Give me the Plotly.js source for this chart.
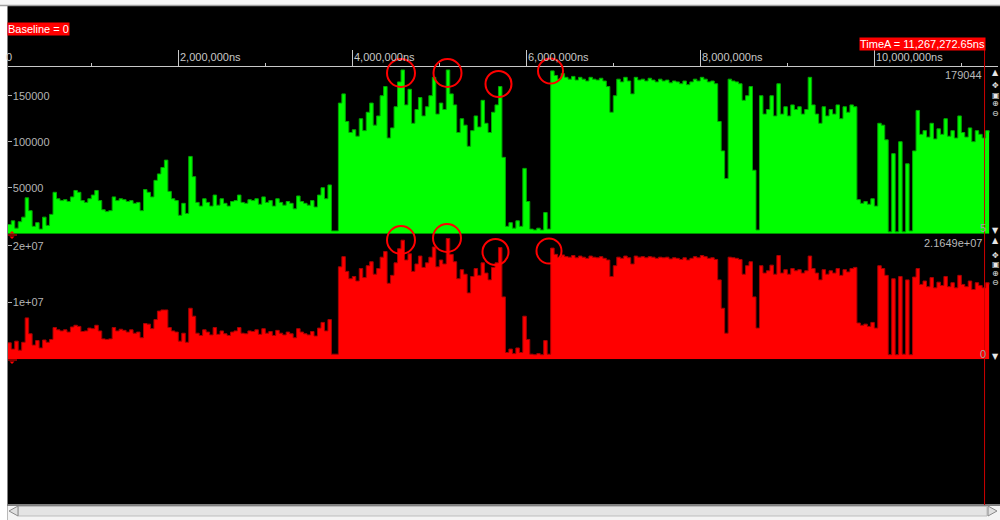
<!DOCTYPE html>
<html>
<head>
<meta charset="utf-8">
<script src="https://cdn.plot.ly/plotly-3.0.1.min.js"></script>
<style>
  html, body { margin: 0; padding: 0; background: #000; }
  #chart { width: 1000px; height: 520px; }
</style>
</head>
<body>
<div id="chart"></div>
<script>
// ---------------- DATA ----------------
// Uniform sampling grid of the waveform (ns)
const SAMPLE_STEP_NS = 40000;
const TIME_A_NS = 11267272.65;
const BASELINE = 0;

// Upper waveform (green), counts per sample
const greenCounts = [
  10000,14000,6000,13000,18000,39000,25000,8000,12000,5000,
  18000,9000,21000,45000,38000,36000,37000,35000,40000,47000,
  45000,36000,34000,38000,42000,47000,36000,26000,24000,25000,
  40000,36000,38000,37000,35000,36000,33000,34000,25000,48000,
  45000,40000,58000,65000,72000,80000,46000,38000,36000,20000,
  33000,22000,84000,62000,34000,30000,38000,34000,30000,42000,
  31000,38000,33000,30000,35000,36000,42000,34000,33000,37000,
  36000,38000,32000,40000,34000,36000,30000,38000,34000,31000,
  35000,33000,27000,41000,35000,33000,31000,36000,29000,42000,
  50000,38000,53000,3000,3000,142000,152000,122000,110000,113000,
  106000,125000,112000,132000,142000,118000,128000,150000,160000,104000,
  115000,138000,165000,178000,140000,157000,120000,135000,148000,128000,
  138000,150000,170000,130000,142000,135000,178000,152000,140000,110000,
  125000,118000,95000,112000,128000,116000,145000,120000,110000,132000,
  140000,160000,83000,8000,12000,6000,14000,8000,71000,35000,
  5000,4000,6000,4000,23000,5000,177000,172000,168000,174000,
  170000,168000,171000,167000,170000,168000,166000,170000,168000,167000,
  169000,166000,160000,132000,150000,168000,165000,170000,166000,152000,
  170000,167000,168000,166000,169000,167000,165000,168000,166000,167000,
  164000,166000,165000,163000,166000,162000,165000,168000,166000,170000,
  168000,165000,166000,163000,122000,90000,60000,168000,166000,165000,
  163000,145000,150000,160000,69000,4000,150000,130000,135000,150000,
  128000,163000,130000,138000,128000,140000,135000,138000,130000,135000,
  170000,140000,130000,120000,138000,128000,135000,130000,140000,125000,
  138000,132000,140000,138000,37000,33000,35000,32000,38000,30000,
  120000,118000,102000,2000,87000,2000,100000,2000,76000,3000,
  90000,134000,108000,112000,105000,120000,103000,114000,108000,125000,
  106000,112000,104000,128000,110000,105000,115000,100000,112000,108000,
  104000,112000,110000
];

// Lower waveform (red), per sample
const redValues = [
  2.9e6,1.8e6,3.2e6,1.6e6,3.0e6,7.3e6,4.5e6,2.5e6,3.3e6,2.0e6,
  3.4e6,3.0e6,3.5e6,5.6e6,5.2e6,5.0e6,5.2e6,4.8e6,5.7e6,6.0e6,
  5.8e6,4.9e6,5.0e6,5.5e6,5.4e6,6.0e6,5.0e6,3.6e6,3.5e6,3.6e6,
  5.6e6,5.0e6,5.3e6,5.1e6,4.8e6,5.2e6,4.6e6,4.8e6,3.8e6,6.3e6,
  6.2e6,5.4e6,7.0e6,8.5e6,8.7e6,8.7e6,5.6e6,5.0e6,4.8e6,3.2e6,
  4.6e6,3.0e6,9.0e6,7.6e6,4.6e6,4.2e6,5.2e6,4.8e6,4.3e6,5.6e6,
  4.4e6,5.0e6,4.5e6,4.2e6,4.8e6,5.0e6,5.6e6,4.6e6,4.5e6,5.0e6,
  4.9e6,5.2e6,4.4e6,5.4e6,4.6e6,4.9e6,4.2e6,5.1e6,4.6e6,4.3e6,
  4.8e6,4.5e6,3.8e6,5.4e6,4.8e6,4.5e6,4.3e6,4.9e6,4.1e6,5.5e6,
  6.5e6,5.0e6,7.0e6,0.9e6,0.9e6,16.3e6,18.1e6,15.5e6,14.2e6,14.6e6,
  13.8e6,16.0e6,14.4e6,16.5e6,17.2e6,15.0e6,16.0e6,18.0e6,19.0e6,13.4e6,
  14.8e6,17.0e6,19.5e6,21.0e6,17.5e6,18.6e6,15.5e6,16.8e6,18.2e6,16.2e6,
  17.0e6,18.0e6,19.8e6,16.3e6,17.5e6,16.8e6,21.3e6,18.5e6,17.2e6,14.2e6,
  15.8e6,15.0e6,11.7e6,14.6e6,16.0e6,14.8e6,17.0e6,15.2e6,14.0e6,16.2e6,
  17.0e6,19.7e6,11.0e6,1.2e6,1.8e6,1.0e6,2.0e6,1.2e6,7.6e6,3.5e6,
  0.9e6,0.8e6,1.0e6,0.8e6,3.3e6,0.9e6,19.6e6,18.5e6,18.0e6,18.4e6,
  18.1e6,18.0e6,18.3e6,17.9e6,18.2e6,18.0e6,17.8e6,18.2e6,18.0e6,17.9e6,
  18.1e6,17.8e6,17.5e6,14.6e6,16.5e6,18.0e6,17.8e6,18.2e6,17.9e6,16.8e6,
  18.2e6,18.0e6,18.1e6,17.9e6,18.1e6,18.0e6,17.8e6,18.0e6,17.9e6,18.0e6,
  17.7e6,17.9e6,17.8e6,17.6e6,17.9e6,17.5e6,17.8e6,18.1e6,17.9e6,18.3e6,
  18.1e6,17.8e6,17.9e6,17.6e6,14.0e6,9.0e6,4.6e6,18.0e6,17.9e6,17.8e6,
  17.6e6,15.0e6,16.5e6,17.2e6,11.0e6,5.5e6,16.5e6,15.2e6,15.6e6,16.6e6,
  15.0e6,18.3e6,15.2e6,15.8e6,15.0e6,16.0e6,15.6e6,15.8e6,15.2e6,15.6e6,
  18.2e6,16.0e6,15.2e6,14.0e6,15.8e6,15.0e6,15.6e6,15.2e6,16.0e6,14.8e6,
  15.8e6,15.4e6,16.0e6,16.2e6,6.4e6,6.0e6,6.2e6,5.8e6,6.5e6,5.5e6,
  16.5e6,16.0e6,14.8e6,0.8e6,14.2e6,0.8e6,14.6e6,0.9e6,14.0e6,0.8e6,
  14.5e6,16.0e6,13.2e6,13.8e6,12.8e6,14.4e6,12.6e6,13.6e6,13.0e6,14.6e6,
  12.8e6,13.5e6,12.6e6,14.8e6,13.2e6,12.8e6,13.8e6,12.3e6,13.5e6,13.0e6,
  12.6e6,13.5e6,13.2e6
];

// Axis extents / ticks
const greenMax = 179044;
const redMax = 2.1649e7;
const greenTickVals = [50000, 100000, 150000];
const greenTickText = ['50000', '100000', '150000'];
const redTickVals = [1e7, 2e7];
const redTickText = ['1e+07', '2e+07'];
const rulerTickVals = [0, 2e6, 4e6, 6e6, 8e6, 10e6];
const rulerTickText = ['0', '2,000,000ns', '4,000,000ns', '6,000,000ns', '8,000,000ns', '10,000,000ns'];
const rulerMinorVals = [1e6, 3e6, 5e6, 7e6, 9e6, 11e6];

const sampleTimes = greenCounts.map((_, i) => (i + 1) * SAMPLE_STEP_NS);

// ---------------- LAYOUT HELPERS ----------------
const W = 1000, H = 520;
const px = x => x / W;
const py = y => 1 - y / H;
const FONT = 'Liberation Sans, Arial, sans-serif';
const XRANGE = [42529, 11421839];
const XDOM = [px(8), px(998)];

const traces = [
  {
    x: sampleTimes, y: greenCounts, xaxis: 'x', yaxis: 'y',
    type: 'scatter', mode: 'lines',
    line: { shape: 'hv', color: '#00a800', width: 1 },
    fill: 'tozeroy', fillcolor: '#00ff00', hoverinfo: 'skip', showlegend: false
  },
  {
    x: sampleTimes, y: redValues, xaxis: 'x2', yaxis: 'y2',
    type: 'scatter', mode: 'lines',
    line: { shape: 'hv', color: '#a80000', width: 1 },
    fill: 'tozeroy', fillcolor: '#ff0000', hoverinfo: 'skip', showlegend: false
  },
  // empty trace: only creates the subplot that carries the time ruler axis
  { x: [], y: [], xaxis: 'x3', yaxis: 'y', type: 'scatter', mode: 'lines', hoverinfo: 'skip', showlegend: false }
];

const hiddenX = {
  domain: XDOM, range: XRANGE, showgrid: false, zeroline: false,
  showline: false, showticklabels: false, ticks: ''
};

const shapes = [];
// borders
shapes.push({ type: 'rect', xref: 'paper', yref: 'paper', x0: 0, x1: px(7.5), y0: 0, y1: 1, fillcolor: '#ffffff', line: { width: 0 }, layer: 'above' });
shapes.push({ type: 'rect', xref: 'paper', yref: 'paper', x0: 0, x1: 1, y0: py(5), y1: 1, fillcolor: '#f6f6f6', line: { width: 0 }, layer: 'above' });
shapes.push({ type: 'line', xref: 'paper', yref: 'paper', x0: 0, x1: 1, y0: py(5.5), y1: py(5.5), line: { color: '#a0a0a0', width: 1.5 }, layer: 'above' });
// bottom scrollbar
shapes.push({ type: 'line', xref: 'paper', yref: 'paper', x0: px(7.5), x1: 1, y0: py(505), y1: py(505), line: { color: '#808080', width: 2 }, layer: 'above' });
shapes.push({ type: 'rect', xref: 'paper', yref: 'paper', x0: px(7.5), x1: 1, y0: py(520), y1: py(506), fillcolor: '#f4f4f4', line: { width: 0 }, layer: 'above' });
shapes.push({ type: 'rect', xref: 'paper', yref: 'paper', x0: px(18), x1: px(987), y0: py(516), y1: py(506.5), fillcolor: '#e4e4e4', line: { color: '#bdbdbd', width: 1 }, layer: 'above' });
shapes.push({ type: 'path', xref: 'paper', yref: 'paper', path: `M ${px(9)} ${py(511)} L ${px(18)} ${py(506)} L ${px(18)} ${py(516)} Z`, fillcolor: '#e0e0e0', line: { color: '#8a8a8a', width: 1 }, layer: 'above' });
shapes.push({ type: 'path', xref: 'paper', yref: 'paper', path: `M ${px(997)} ${py(511)} L ${px(988)} ${py(506)} L ${px(988)} ${py(516)} Z`, fillcolor: '#e0e0e0', line: { color: '#8a8a8a', width: 1 }, layer: 'above' });
// TimeA cursor line
shapes.push({ type: 'line', xref: 'x', yref: 'paper', x0: TIME_A_NS, x1: TIME_A_NS, y0: py(505), y1: py(50), line: { color: '#cc0000', width: 1 }, layer: 'above' });
// highlight circles (pixel positions)
const circlesPx = [
  [401, 73, 14], [447.5, 73, 14], [498.5, 84, 13], [550.5, 71, 12.5],
  [401, 240, 14], [447, 238, 14], [495.5, 252, 13], [549, 251, 12.5]
];
circlesPx.forEach(([cx, cy, r]) => {
  shapes.push({ type: 'circle', xref: 'paper', yref: 'paper', x0: px(cx - r), x1: px(cx + r), y0: py(cy + r), y1: py(cy - r), line: { color: '#ff0000', width: 2 }, layer: 'above' });
});
// baseline markers
[235, 360].forEach(y => {
  shapes.push({ type: 'line', xref: 'paper', yref: 'paper', x0: px(8), x1: px(17), y0: py(y), y1: py(y), line: { color: '#ff0000', width: 1 }, layer: 'above' });
  shapes.push({ type: 'path', xref: 'paper', yref: 'paper', path: `M ${px(9.5)} ${py(y - 1.5)} L ${px(14.5)} ${py(y - 1.5)} L ${px(12)} ${py(y - 4)} Z`, fillcolor: '#ff0000', line: { width: 0 }, layer: 'above' });
  shapes.push({ type: 'path', xref: 'paper', yref: 'paper', path: `M ${px(9.5)} ${py(y + 1.5)} L ${px(14.5)} ${py(y + 1.5)} L ${px(12)} ${py(y + 4)} Z`, fillcolor: '#ff0000', line: { width: 0 }, layer: 'above' });
});

const annotations = [];
const txt = (text, x, y, opts = {}) => Object.assign({
  text, xref: 'paper', yref: 'paper', x: px(x), y: py(y), showarrow: false,
  xanchor: 'left', yanchor: 'middle', font: { family: FONT, size: 11, color: '#c8c8c8' }
}, opts);

annotations.push(txt('Baseline = ' + BASELINE, 7, 29, { bgcolor: '#ff0000', borderpad: 0, font: { family: FONT, size: 11, color: '#ffffff' } }));
annotations.push({
  text: 'TimeA = ' + TIME_A_NS.toLocaleString('en-US', { minimumFractionDigits: 2 }) + 'ns',
  xref: 'x', yref: 'paper', x: TIME_A_NS, y: py(44), xanchor: 'right', yanchor: 'middle', xshift: 1,
  showarrow: false, bgcolor: '#ff0000', borderpad: 0, font: { family: FONT, size: 11, color: '#ffffff' }
});
rulerTickVals.forEach((v, i) => {
  if (v < XRANGE[0]) {
    annotations.push(txt(rulerTickText[i], 4, 56.5));
    return;
  }
  annotations.push({
    text: rulerTickText[i], xref: 'x', yref: 'paper', x: v, y: py(56.5), xanchor: 'left', yanchor: 'middle',
    xshift: 0, showarrow: false, font: { family: FONT, size: 11, color: '#c8c8c8' }
  });
});
// right-side panel labels
annotations.push(txt(String(greenMax), 984, 75, { xanchor: 'right', font: { family: FONT, size: 11, color: '#b8b8b8' } }));
annotations.push(txt('5', 988, 228, { xanchor: 'right', font: { family: FONT, size: 11, color: '#a0a0a0' } }));
annotations.push(txt(redMax.toExponential(4).replace('e+7', 'e+07'), 984, 243, { xanchor: 'right', font: { family: FONT, size: 11, color: '#b8b8b8' } }));
annotations.push(txt('0', 988, 354, { xanchor: 'right', font: { family: FONT, size: 11, color: '#a0a0a0' } }));
// side icons
const iconFont = { family: 'DejaVu Sans, sans-serif', size: 8, color: '#e6e6e6' };
[[73, '▲'], [230, '▼'], [240, '▲'], [356, '▼']].forEach(([y, s]) => annotations.push(txt(s, 995.5, y, { xanchor: 'center', font: iconFont })));
[[0, '✥'], [9, '▣'], [18, '⊕'], [27, '⊖']].forEach(([dy, s]) => {
  annotations.push(txt(s, 995.5, 86 + dy, { xanchor: 'center', font: iconFont }));
  annotations.push(txt(s, 995.5, 255 + dy, { xanchor: 'center', font: iconFont }));
});

const layout = {
  width: W, height: H,
  margin: { l: 0, r: 0, t: 0, b: 0, pad: 0 },
  paper_bgcolor: '#000000', plot_bgcolor: 'rgba(0,0,0,0)',
  showlegend: false,
  xaxis: Object.assign({ anchor: 'y' }, hiddenX),
  xaxis2: Object.assign({ anchor: 'y2', matches: 'x' }, hiddenX),
  xaxis3: {
    overlaying: 'x', anchor: 'free', position: py(66), side: 'top',
    domain: XDOM, range: XRANGE, showgrid: false, zeroline: false,
    showline: true, linecolor: '#c8c8c8', linewidth: 1,
    tickmode: 'array', tickvals: rulerTickVals, ticks: 'outside', ticklen: 16, tickcolor: '#c8c8c8', tickwidth: 1,
    showticklabels: false,
    minor: { tickmode: 'array', tickvals: rulerMinorVals, ticks: 'outside', ticklen: 3, tickcolor: '#c8c8c8' }
  },
  yaxis: {
    domain: [py(233.7), py(69)], range: [0, greenMax], anchor: 'x',
    showgrid: false, zeroline: false, showline: false,
    tickmode: 'array', tickvals: greenTickVals, ticktext: greenTickText, ticks: 'inside', ticklen: 4, tickcolor: '#b4b4b4',
    ticklabelposition: 'inside', tickfont: { family: FONT, size: 11, color: '#b4b4b4' }
  },
  yaxis2: {
    domain: [py(359.3), py(236.5)], range: [0, redMax], anchor: 'x2',
    showgrid: false, zeroline: false, showline: false,
    tickmode: 'array', tickvals: redTickVals, ticktext: redTickText, ticks: 'inside', ticklen: 4, tickcolor: '#b4b4b4',
    ticklabelposition: 'inside', tickfont: { family: FONT, size: 11, color: '#b4b4b4' }
  },
  shapes, annotations
};

Plotly.newPlot('chart', traces, layout, { staticPlot: true, displayModeBar: false });
</script>
</body>
</html>
